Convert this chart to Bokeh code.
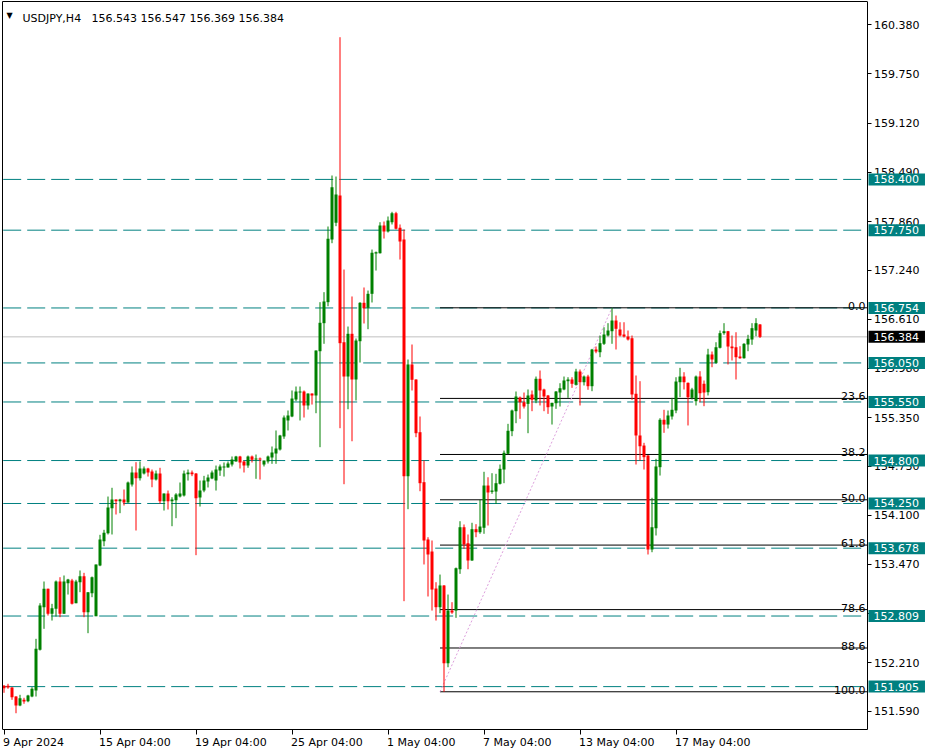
import numpy as np
from bokeh.plotting import figure
from bokeh.models import Range1d, FixedTicker, Label, ColumnDataSource, PrintfTickFormatter, LinearAxis
from bokeh.embed import file_html
from bokeh.resources import INLINE

# ---------------- data ----------------
symbol = "USDJPY,H4"
last_ohlc = [156.543, 156.547, 156.369, 156.384]

date_tick_bars = [0, 24, 48, 72, 96, 120, 144, 168]
date_tick_labels = ["9 Apr 2024", "15 Apr 04:00", "19 Apr 04:00", "25 Apr 04:00",
                    "1 May 04:00", "7 May 04:00", "13 May 04:00", "17 May 04:00"]

price_ticks = [160.380, 159.750, 159.120, 158.490, 157.860, 157.240, 156.610, 155.980,
               155.350, 154.730, 154.100, 153.470, 152.840, 152.210, 151.590]

levels = [158.400, 157.750, 156.754, 156.050, 155.550, 154.800, 154.250, 153.678, 152.809, 151.905]
bid = 156.384

fib_ratios = [0.0, 23.6, 38.2, 50.0, 61.8, 78.6, 88.6, 100.0]
fib_low_bar = 110
fib_high_bar = 152

ohlc = [
(151.915,151.925,151.826,151.885),(151.915,151.941,151.877,151.893),(151.893,151.897,151.736,151.769),
(151.778,151.782,151.564,151.663),(151.663,151.800,151.654,151.756),(151.736,151.762,151.685,151.714),
(151.718,151.800,151.705,151.791),(151.778,151.897,151.769,151.877),(151.855,152.517,151.778,152.389),
(152.376,152.973,152.367,152.944),(152.922,153.251,152.645,153.157),(153.157,153.160,152.815,152.837),
(152.837,152.965,152.751,152.909),(152.901,153.264,152.803,153.251),(153.251,153.306,152.794,152.837),
(152.837,153.328,152.837,153.251),(153.229,153.285,153.084,153.276),(153.264,153.285,152.956,152.965),
(152.973,153.273,152.973,153.251),(153.242,153.392,153.114,153.319),(153.319,153.362,152.794,152.858),
(152.858,153.114,152.589,153.114),(153.101,153.315,153.050,153.306),(152.807,153.469,152.807,153.469),
(153.456,153.849,153.447,153.789),(153.767,153.913,153.703,153.874),(153.869,154.339,153.853,154.199),
(154.190,154.451,153.853,154.301),(154.301,154.301,154.109,154.279),(154.279,154.310,154.126,154.301),
(154.301,154.429,154.224,154.263),(154.263,154.531,154.260,154.519),(154.493,154.724,154.467,154.647),
(154.647,154.779,153.904,154.574),(154.574,154.788,154.544,154.698),(154.634,154.724,154.621,154.698),
(154.698,154.707,154.595,154.647),(154.659,154.685,154.458,154.557),(154.557,154.672,154.544,154.634),
(154.634,154.707,154.246,154.279),(154.279,154.378,154.160,154.378),(154.378,154.416,154.173,154.279),
(154.279,154.330,153.959,154.301),(154.292,154.382,154.062,154.365),(154.339,154.519,154.327,154.378),
(154.352,154.672,154.339,154.634),(154.625,154.685,154.544,154.647),(154.647,154.672,154.600,154.625),
(154.634,154.640,153.588,154.318),(154.327,154.544,154.211,154.416),(154.416,154.604,154.394,154.544),
(154.531,154.621,154.455,154.583),(154.570,154.672,154.561,154.647),(154.544,154.736,154.416,154.685),
(154.672,154.749,154.604,154.724),(154.711,154.775,154.595,154.724),(154.711,154.788,154.711,154.762),
(154.749,154.852,154.724,154.813),(154.788,154.860,154.788,154.852),(154.852,154.860,154.698,154.775),
(154.788,154.800,154.647,154.736),(154.736,154.864,154.707,154.852),(154.852,154.864,154.775,154.809),
(154.813,154.877,154.566,154.826),(154.826,154.839,154.557,154.813),(154.749,154.800,154.724,154.800),
(154.788,154.864,154.762,154.852),(154.839,154.980,154.758,154.903),(154.890,155.185,154.758,154.954),
(154.941,155.129,154.928,155.121),(155.108,155.377,155.078,155.351),(155.313,155.441,155.185,155.377),
(155.364,155.697,155.355,155.594),(155.582,155.748,155.560,155.684),(155.671,155.748,155.313,155.684),
(155.684,155.697,155.351,155.505),(155.505,155.660,155.453,155.658),(155.658,155.660,155.517,155.633),
(155.633,156.210,155.406,156.209),(156.200,156.828,154.971,156.564),(156.559,156.956,156.295,156.837),
(156.828,157.797,156.776,157.639),(157.630,158.450,157.583,158.300),(157.844,158.437,157.801,158.207),
(158.194,160.221,155.214,156.303),(156.315,157.246,154.497,155.876),(155.876,156.516,155.457,156.423),
(156.423,156.901,155.047,155.838),(155.838,156.363,155.569,156.337),(156.328,156.828,156.055,156.820),
(156.820,157.016,156.555,156.751),(156.756,156.977,156.482,156.935),(156.935,157.502,156.824,157.460),
(157.451,157.477,157.233,157.468),(157.455,157.852,157.451,157.810),(157.810,157.861,157.643,157.733),
(157.733,157.925,157.720,157.874),(157.852,157.985,157.823,157.967),(157.967,157.985,157.759,157.767),
(157.780,157.823,157.374,157.605),(157.630,157.758,152.999,154.599),(154.599,156.094,154.177,156.030),
(156.030,156.286,155.697,155.834),(155.838,155.840,155.099,155.150),(155.163,155.364,154.407,154.510),
(154.523,154.800,153.469,153.776),(153.789,153.818,153.059,153.597),(153.635,153.776,152.879,153.148),
(153.161,153.242,152.751,152.922),(152.922,153.340,152.845,153.200),(153.200,153.205,151.839,152.204),
(152.204,153.084,152.153,152.879),(152.879,152.986,152.837,152.854),(152.879,153.430,152.786,153.421),
(153.408,154.023,153.349,153.946),(153.946,153.981,153.670,153.725),(153.741,153.853,153.408,153.520),
(153.520,154.003,153.515,153.921),(153.921,153.985,153.818,153.882),(153.882,154.297,153.862,153.955),
(153.939,154.656,153.862,154.480),(154.480,154.586,153.968,154.391),(154.399,154.638,154.374,154.416),
(154.403,154.630,154.246,154.510),(154.502,154.749,154.493,154.694),(154.685,154.928,154.510,154.899),
(154.886,155.270,154.880,155.181),(155.176,155.453,155.112,155.441),(155.432,155.684,155.278,155.620),
(155.607,155.620,155.334,155.547),(155.547,155.671,155.466,155.492),(155.526,155.710,155.150,155.633),
(155.646,155.697,155.432,155.578),(155.569,155.876,155.534,155.847),(155.847,155.953,155.505,155.697),
(155.710,155.720,155.432,155.620),(155.633,155.640,155.398,155.483),(155.492,155.540,155.261,155.539),
(155.534,155.690,155.462,155.684),(155.671,155.790,155.492,155.726),(155.710,155.876,155.700,155.825),
(155.816,155.867,155.603,155.838),(155.838,155.867,155.731,155.783),(155.770,155.975,155.760,155.940),
(155.940,155.966,155.505,155.803),(155.803,155.889,155.761,155.876),(155.876,155.898,155.706,155.752),
(155.752,156.230,155.688,156.222),(156.222,156.260,156.174,156.196),(156.187,156.401,156.123,156.303),
(156.295,156.507,156.280,156.414),(156.401,156.559,156.388,156.465),(156.456,156.756,156.295,156.593),
(156.593,156.657,156.222,156.487),(156.478,156.571,156.388,156.401),(156.414,156.571,156.375,156.388),
(156.388,156.465,156.337,156.350),(156.366,156.401,155.578,155.646),(155.655,155.889,154.749,155.121),
(155.121,155.816,154.800,154.983),(154.992,155.027,154.685,154.843),(154.864,154.870,153.597,153.661),
(153.661,154.323,153.626,153.946),(153.933,154.822,153.840,154.724),(154.715,155.342,154.608,155.322),
(155.322,155.450,155.155,155.261),(155.261,155.441,155.210,155.377),(155.364,155.603,155.325,155.450),
(155.441,155.867,155.406,155.812),(155.803,155.987,155.611,155.876),(155.876,155.931,155.710,155.803),
(155.795,155.800,155.249,155.611),(155.603,155.731,155.582,155.710),(155.560,155.889,155.505,155.876),
(155.876,155.944,155.547,155.662),(155.783,155.825,155.496,155.671),(155.675,156.231,155.633,156.158),
(156.158,156.196,155.995,156.094),(156.051,156.315,156.040,156.251),(156.244,156.465,156.235,156.431),
(156.431,156.559,156.410,156.456),(156.456,156.460,156.030,156.260),(156.260,156.401,156.081,156.238),
(156.251,156.443,155.838,156.123),(156.132,156.264,156.103,156.110),(156.110,156.303,156.105,156.295),
(156.286,156.410,156.200,156.359),(156.350,156.559,156.282,156.495),(156.465,156.623,156.392,156.559),
(156.543,156.547,156.369,156.384),
]
opens = [r[0] for r in ohlc]
highs = [r[1] for r in ohlc]
lows = [r[2] for r in ohlc]
closes = [r[3] for r in ohlc]

# ---------------- layout helpers (canvas pixel -> data) ----------------
TEAL = "#008080"
GREEN = "#008000"
RED = "#FF0000"
FONT = "DejaVu Sans"
FONT_PX = 11
PX_PER_BAR = 4.0
PX_PER_YEN = 78.09

# DejaVu Sans advance widths (em units) for the characters of the date labels
_ADV = {" ": 0.318, ":": 0.337, "A": 0.684, "M": 0.863, "a": 0.613, "p": 0.635, "r": 0.411, "y": 0.592}


def text_px(s):
    return sum(_ADV.get(ch, 0.636) for ch in s) * FONT_PX


def px2x(px):
    return (px - 3.5) / PX_PER_BAR


def py2y(py):
    return 160.38 - (py - 24.3) / PX_PER_YEN


W, H = 930, 753
AXIS_PX = 866.5      # right border / price axis
BOTTOM_PX = 728.5    # bottom border / time axis
p = figure(width=W, height=H, output_backend="svg", toolbar_location=None,
           x_range=Range1d(px2x(2), px2x(930)), y_range=Range1d(py2y(753), py2y(1)),
           y_axis_location="right",
           min_border_left=2, min_border_top=1, min_border_right=0, min_border_bottom=0,
           background_fill_color="white", border_fill_color="white")
p.grid.visible = False
p.outline_line_color = None

x_end = px2x(AXIS_PX)
y_bottom = py2y(BOTTOM_PX)
y_top = py2y(1)

# price axis drawn at the chart's right border
ya = p.yaxis[0]
ya.fixed_location = x_end
ya.bounds = (y_bottom, y_top)
ya.ticker = FixedTicker(ticks=price_ticks)
ya.formatter = PrintfTickFormatter(format="%.3f")
ya.major_tick_in = 0
ya.major_tick_out = 4
ya.minor_tick_line_color = None
ya.major_label_standoff = 3
ya.axis_line_color = "black"
ya.major_tick_line_color = "black"
ya.major_label_text_font = FONT
ya.major_label_text_font_size = f"{FONT_PX}px"
ya.major_label_text_color = "black"

# time axis: tick marks at the bars
xa = p.xaxis[0]
xa.fixed_location = y_bottom
xa.bounds = (px2x(2), x_end)
xa.ticker = FixedTicker(ticks=date_tick_bars)
xa.major_label_overrides = {t: "" for t in date_tick_bars}
xa.major_tick_in = 0
xa.major_tick_out = 5
xa.minor_tick_line_color = None
xa.axis_line_color = "black"
xa.major_tick_line_color = "black"

# time axis labels: text starts at each tick (MT4 style, left aligned)
label_pos = [b + (text_px(s) / 2.0 - 1.0) / PX_PER_BAR for b, s in zip(date_tick_bars, date_tick_labels)]
xl = LinearAxis(fixed_location=y_bottom, ticker=FixedTicker(ticks=label_pos),
                major_label_overrides={t: s for t, s in zip(label_pos, date_tick_labels)},
                major_tick_in=0, major_tick_out=5, major_tick_line_color=None,
                minor_tick_line_color=None, axis_line_color=None, major_label_standoff=2,
                major_label_text_font=FONT, major_label_text_font_size=f"{FONT_PX}px",
                major_label_text_color="black")
p.add_layout(xl, "below")

# plain border lines on the left and top
left_ax = LinearAxis(ticker=FixedTicker(ticks=[]), major_tick_out=0, major_tick_in=0,
                     minor_tick_line_color=None, axis_line_color="black", major_label_standoff=0,
                     bounds=(y_bottom, y_top))
p.add_layout(left_ax, "left")
top_ax = LinearAxis(ticker=FixedTicker(ticks=[]), major_tick_out=0, major_tick_in=0,
                    minor_tick_line_color=None, axis_line_color="black", major_label_standoff=0,
                    bounds=(px2x(2), x_end))
p.add_layout(top_ax, "above")

# ---------------- horizontal levels ----------------
p.segment(x0=[px2x(2.7)] * len(levels), x1=[x_end] * len(levels), y0=levels, y1=levels,
          line_color=TEAL, line_width=1, line_dash="18 6")
p.segment(x0=[px2x(2)], x1=[x_end], y0=[bid], y1=[bid], line_color="#C0C0C0", line_width=1)

# ---------------- fibonacci ----------------
fib_low = lows[fib_low_bar]
fib_high = highs[fib_high_bar]
fib_prices = [fib_high - r / 100.0 * (fib_high - fib_low) for r in fib_ratios]
fib_x0 = fib_low_bar - 1
p.segment(x0=[fib_x0] * len(fib_prices), x1=[x_end] * len(fib_prices), y0=fib_prices, y1=fib_prices,
          line_color="black", line_width=1)
p.line(x=[fib_x0, fib_high_bar], y=[fib_low, fib_high], line_color="#DDA0DD", line_width=1,
       line_dash="2 2")

# ---------------- candles ----------------
idx = np.arange(len(opens))
o = np.array(opens); c = np.array(closes)
top = np.maximum(o, c)
bot = np.minimum(o, c)
one_px = 1.0 / PX_PER_YEN
bot = np.where(top - bot < one_px, top - one_px, bot)
colors = [GREEN if cc >= oo else RED for oo, cc in zip(opens, closes)]
src = ColumnDataSource(dict(x=idx, o=opens, h=highs, l=lows, c=closes, top=top, bot=bot, color=colors))
p.segment(x0="x", x1="x", y0="l", y1="h", line_color="color", line_width=1, source=src)
p.vbar(x="x", width=0.75, top="top", bottom="bot", fill_color="color", line_color=None, source=src)

# ---------------- labels ----------------
for r, fp in zip(fib_ratios, fib_prices):
    p.add_layout(Label(x=px2x(865), y=fp, text=f"{r:.1f}", text_font=FONT, text_font_size=f"{FONT_PX}px",
                       text_color="black", text_align="right", text_baseline="alphabetic", y_offset=2))

pad = dict(left=5, right=6, top=2, bottom=2)
for lv in levels:
    p.add_layout(Label(x=px2x(868), y=lv, text=f"{lv:.3f}", text_font=FONT, text_font_size=f"{FONT_PX}px",
                       text_color="white", text_align="left", text_baseline="middle",
                       background_fill_color=TEAL, padding=pad))
p.add_layout(Label(x=px2x(868), y=bid, text=f"{bid:.3f}", text_font=FONT, text_font_size=f"{FONT_PX}px",
                   text_color="white", text_align="left", text_baseline="middle",
                   background_fill_color="black", padding=pad))

p.add_layout(Label(x=px2x(6), y=py2y(15), text="\u25BC", text_font=FONT, text_font_size="8px",
                   text_color="black", text_align="left", text_baseline="alphabetic"))
p.add_layout(Label(x=px2x(22), y=py2y(17.5), text=symbol, text_font=FONT, text_font_size=f"{FONT_PX}px",
                   text_color="black", text_align="left", text_baseline="alphabetic"))
p.add_layout(Label(x=px2x(91), y=py2y(17.5), text=" ".join(f"{v:.3f}" for v in last_ohlc),
                   text_font=FONT, text_font_size=f"{FONT_PX}px", text_color="black", text_align="left",
                   text_baseline="alphabetic"))

open("out.html", "w").write(file_html(p, INLINE))
